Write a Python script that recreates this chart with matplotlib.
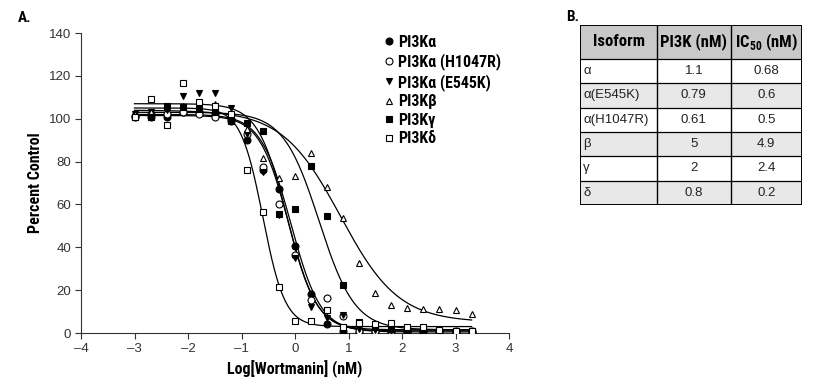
import numpy as np
import matplotlib.pyplot as plt
from matplotlib import font_manager
from matplotlib.patches import Rectangle

# pick a condensed face if one is installed, else plain Liberation Sans
_names = {f.name for f in font_manager.fontManager.ttflist}
_narrow = [n for n in ['Liberation Sans Narrow', 'Roboto Condensed',
                       'Open Sans Condensed', 'DejaVu Sans Condensed']
           if n in _names]
HAS_NARROW = bool(_narrow)
NARROW = (_narrow[:1] if HAS_NARROW else ['Liberation Sans']) + ['DejaVu Sans']
NSCALE = 1.0 if HAS_NARROW else 0.82

plt.rcParams['font.family'] = ['Liberation Sans', 'DejaVu Sans']
plt.rcParams['mathtext.fontset'] = 'custom'
plt.rcParams['mathtext.bf'] = NARROW[0] + ':bold'
plt.rcParams['mathtext.rm'] = NARROW[0] + ':bold'

# log[wortmannin] (nM), 2-fold dilution series
log_conc = [-3.0, -2.7, -2.4, -2.1, -1.8, -1.5, -1.2, -0.9, -0.6, -0.3, 0.0,
            0.3, 0.6, 0.9, 1.2, 1.5, 1.8, 2.1, 2.4, 2.7, 3.0, 3.3]

pi3k_a = [101.5, 101, 101, 103, 103, 102, 99, 90, 76, 67, 40.5,
          18, 4, 1, 0.5, 0.5, 0.3, 0.3, 0.5, 0.5, 0.5, 0.5]
pi3k_a_h1047r = [101, 102, 102, 103, 102, 101, 100, 93, 77.6, 60, 36.3,
                 15.6, 16.4, 8, 1, 1, 1, 1, 1, 1, 1, 1]
pi3k_a_e545k = [102, 103, 104, 110.5, 112, 112, 105, 93, 75, 55, 35,
                12, 7, 8.3, 2, 1.5, 1, 1, 1, 1, 1, 1]
pi3k_b = [102, 103, 105.5, 106, 107, 107, 102, 95, 81.8, 72.4, 73.2,
          84, 68, 53.5, 32.7, 18.7, 13, 11.9, 11.4, 11, 10.6, 9]
pi3k_g = [101, 101, 106, 105.6, 104.5, 103, 99, 97.8, 94.5, 55.5, 57.8,
          78, 54.5, 22.5, 5, 3, 2, 1.5, 1.5, 1, 1, 1]
pi3k_d = [100.7, 109, 97, 116.8, 108, 106, 102, 76, 56.5, 21.5, 5.5,
          5.5, 10.6, 3, 4.8, 4, 4.8, 3, 2.6, 1.6, 0.9, 1]

# fitted curve parameters: top, bottom, logIC50, hill slope
fit_a = [102, 0.5, -0.08, 1.55]
fit_a_h1047r = [101.5, 1, -0.12, 1.6]
fit_a_e545k = [107, 1.5, -0.15, 1.6]
fit_b = [104, 5, 0.85, 0.8]
fit_g = [103, 1.5, 0.45, 1.3]
fit_d = [105, 3, -0.6, 2.1]

labels = ['PI3Kα', 'PI3Kα (H1047R)', 'PI3Kα (E545K)', 'PI3Kβ', 'PI3Kγ', 'PI3Kδ']
markers = ['o', 'o', 'v', '^', 's', 's']
fills = ['black', 'white', 'black', 'white', 'black', 'white']
series = [pi3k_a, pi3k_a_h1047r, pi3k_a_e545k, pi3k_b, pi3k_g, pi3k_d]
fits = [fit_a, fit_a_h1047r, fit_a_e545k, fit_b, fit_g, fit_d]

# table data
tbl_header = ['Isoform', 'PI3K (nM)', r'IC$_{50}$ (nM)']
tbl_isoform = ['α', 'α(E545K)', 'α(H1047R)', 'β', 'γ', 'δ']
tbl_pi3k = ['1.1', '0.79', '0.61', '5', '2', '0.8']
tbl_ic50 = ['0.68', '0.6', '0.5', '4.9', '2.4', '0.2']


def curve(x, p):
    top, bottom, logic, hill = p
    return bottom + (top - bottom) / (1 + 10 ** ((x - logic) * hill))


fig = plt.figure(figsize=(8.15, 3.79), dpi=100)
ax = fig.add_axes([81 / 815, 46 / 379, 428 / 815, 300 / 379])

xs = np.linspace(-3, 3.3, 300)
for p in fits:
    ax.plot(xs, curve(xs, p), color='black', lw=0.9, zorder=2)

for y, m, f, lab in zip(series, markers, fills, labels):
    ax.plot(log_conc, y, ls='none', marker=m, ms=5, mfc=f, mec='black',
            mew=0.8, label=lab, zorder=3)

ax.set_xlim(-4, 4)
ax.set_ylim(0, 140)
ax.set_xticks(range(-4, 5))
ax.set_xticklabels([str(t).replace('-', '–') for t in range(-4, 5)])
ax.set_yticks(range(0, 141, 20))
for s in ['top', 'right']:
    ax.spines[s].set_visible(False)
for s in ['left', 'bottom']:
    ax.spines[s].set_color('#333333')
ax.tick_params(direction='out', length=4, width=0.8, colors='#333333',
               labelsize=9.5, pad=3)
ax.set_xlabel('Log[Wortmanin] (nM)', family=NARROW, fontweight='bold',
              fontsize=11.5 * NSCALE, labelpad=4)
ax.set_ylabel('Percent Control', family=NARROW, fontweight='bold',
              fontsize=11.5 * NSCALE, labelpad=4)

leg = ax.legend(loc='upper left', bbox_to_anchor=(0.69, 1.015), frameon=False,
                handletextpad=0.15, handlelength=0.8, labelspacing=0.22,
                borderaxespad=0,
                prop={'family': NARROW, 'weight': 'bold',
                      'size': 11.5 * NSCALE})

fig.text(18 / 815, 1 - 18 / 379, 'A.', family=NARROW, fontweight='bold',
         fontsize=11 * NSCALE, va='center', ha='left')
fig.text(566 / 815, 1 - 17 / 379, 'B.', family=NARROW, fontweight='bold',
         fontsize=11 * NSCALE, va='center', ha='left')

# table B
tx0, tx1, ty0, ty1 = 580, 802, 25, 205
tax = fig.add_axes([tx0 / 815, 1 - ty1 / 379, (tx1 - tx0) / 815,
                    (ty1 - ty0) / 379])
tax.set_xlim(0, tx1 - tx0)
tax.set_ylim(ty1 - ty0, 0)
tax.axis('off')
col_edges = [0, 77, 150.7, 222]
row_edges = [0, 34, 58.3, 82.6, 107, 131.3, 155.6, 180]
row_colors = ['#c9c9c9', 'white', '#e8e8e8', 'white', '#e8e8e8', 'white',
              '#e8e8e8']
for i, c in enumerate(row_colors):
    tax.add_patch(Rectangle((0, row_edges[i]), col_edges[-1],
                            row_edges[i + 1] - row_edges[i], fc=c, ec='none'))
for r in row_edges[1:-1]:
    tax.plot([0, col_edges[-1]], [r, r], color='black', lw=0.9)
for c in col_edges[1:-1]:
    tax.plot([c, c], [0, row_edges[-1]], color='black', lw=1.0)
tax.add_patch(Rectangle((0, 0), col_edges[-1], row_edges[-1], fc='none',
                        ec='black', lw=1.4))

hy = (row_edges[0] + row_edges[1]) / 2
for j, h in enumerate(tbl_header):
    tax.text((col_edges[j] + col_edges[j + 1]) / 2, hy, h, family=NARROW,
             fontweight='bold', fontsize=12 * NSCALE, ha='center',
             va='center')
for i in range(len(tbl_isoform)):
    yc = (row_edges[i + 1] + row_edges[i + 2]) / 2
    tax.text(3, yc, tbl_isoform[i], fontsize=9.5, ha='left', va='center',
             color='#222222')
    tax.text((col_edges[1] + col_edges[2]) / 2, yc, tbl_pi3k[i], fontsize=9.5,
             ha='center', va='center', color='#222222')
    tax.text((col_edges[2] + col_edges[3]) / 2, yc, tbl_ic50[i], fontsize=9.5,
             ha='center', va='center', color='#222222')

fig.savefig('out.png', dpi=100)
